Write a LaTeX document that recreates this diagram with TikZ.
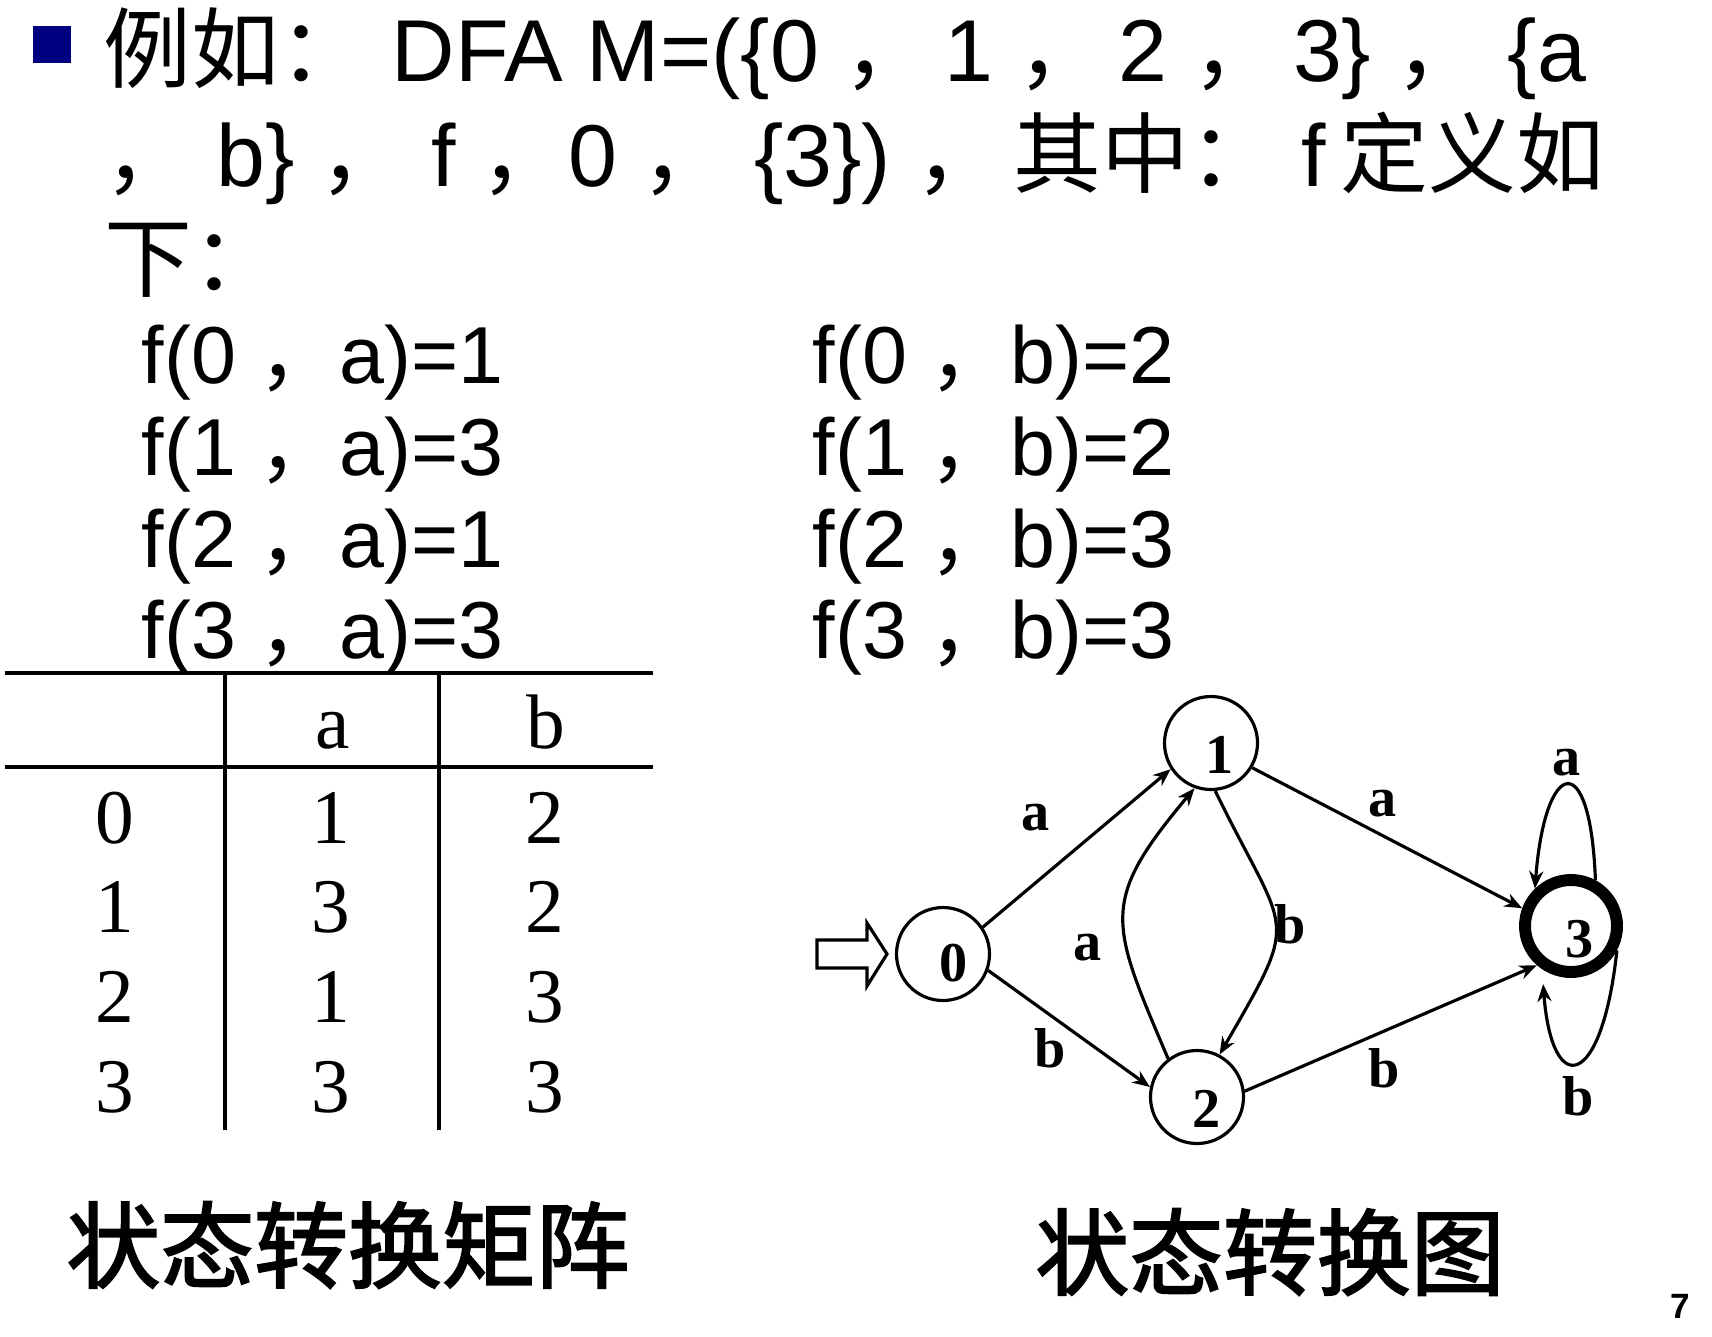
\documentclass[tikz,border=0pt]{standalone}
\usepackage{fontspec}
\usepackage{tikz}
\usetikzlibrary{arrows.meta}

\setmainfont{Liberation Sans}
\newfontfamily\tnr{Liberation Serif}
\newfontfamily\cjk{Noto Sans CJK SC}
\newfontfamily\cjkheavy[FakeBold=2.1]{Noto Sans CJK SC}
\newcommand{\zc}{{\cjk ，}}
\newcommand{\zcs}{\zc\hspace{0.15em}}
\definecolor{bulletblue}{RGB}{0,0,128}

\tikzset{
    headline/.style = {font = {\fontsize{25}{29}\selectfont}, inner sep = 0pt, anchor = base west},
    txtline/.style = {font = {\fontsize{23}{27}\selectfont}, inner sep = 0pt, anchor = base west},
    cell/.style = {font = {\fontsize{22}{26}\selectfont\tnr}, inner sep = 0pt, anchor = base},
    tabline/.style = {line width = 1.1pt},
    statenode/.style = {circle, draw, line width = 0.9pt, minimum size = 0.93cm, inner sep = 0pt},
    accept/.style = {statenode, line width = 3.4pt, minimum size = 0.92cm},
    digit/.style = {font = {\fontsize{16}{18}\selectfont\tnr\bfseries}, inner sep = 0pt},
    trans/.style = {-{Stealth[length = 5pt, width = 4pt]}, line width = 0.9pt},
    caption/.style = {font = {\fontsize{26.7}{30}\selectfont\cjkheavy}, inner sep = 0pt}
}

\begin{document}
\begin{tikzpicture}
        \useasboundingbox (0, 0) rectangle (17.12, -13.36);

        % heading text
        \fill[bulletblue] (0.33, -0.26) rectangle (0.71, -0.63);
        \node[headline] (l1) at (1.03, -0.81) {{\cjk 例如：}\ DFA M=(\{0 \zcs 1 \zcs 2 \zcs 3\} \zc\ \{a};
        \node[headline] (l2) at (1.04, -1.86) {\zc\ b\} \zc\ f \zc 0 \zc\ \{3\}) \zc\hspace{0.12em}{\cjk 其中：} f\,{\cjk 定义如}};
        \node[headline] (l3) at (1.04, -2.90) {{\cjk 下：}};

        \node[txtline] (fa0) at (1.41, -3.83) {f(0 \zc a)=1};
        \node[txtline] (fa1) at (1.41, -4.75) {f(1 \zc a)=3};
        \node[txtline] (fa2) at (1.41, -5.67) {f(2 \zc a)=1};
        \node[txtline] (fa3) at (1.41, -6.58) {f(3 \zc a)=3};
        \node[txtline] (fb0) at (8.12, -3.83) {f(0 \zc b)=2};
        \node[txtline] (fb1) at (8.12, -4.75) {f(1 \zc b)=2};
        \node[txtline] (fb2) at (8.12, -5.67) {f(2 \zc b)=3};
        \node[txtline] (fb3) at (8.12, -6.58) {f(3 \zc b)=3};

        % transition matrix
        \draw[tabline] (0.05, -6.73) -- (6.53, -6.73);
        \draw[tabline] (0.05, -7.67) -- (6.53, -7.67);
        \draw[tabline] (2.25, -6.73) -- (2.25, -11.30);
        \draw[tabline] (4.39, -6.73) -- (4.39, -11.30);

        \node[cell] (ha) at (3.33, -7.48) {a};
        \node[cell] (hb) at (5.46, -7.48) {b};
        \node[cell] (r0) at (1.15, -8.43) {0};
        \node[cell] (r0a) at (3.31, -8.43) {1};
        \node[cell] (r0b) at (5.45, -8.43) {2};
        \node[cell] (r1) at (1.15, -9.32) {1};
        \node[cell] (r1a) at (3.31, -9.32) {3};
        \node[cell] (r1b) at (5.45, -9.32) {2};
        \node[cell] (r2) at (1.15, -10.22) {2};
        \node[cell] (r2a) at (3.31, -10.22) {1};
        \node[cell] (r2b) at (5.45, -10.22) {3};
        \node[cell] (r3) at (1.15, -11.12) {3};
        \node[cell] (r3a) at (3.31, -11.12) {3};
        \node[cell] (r3b) at (5.45, -11.12) {3};

        % transition diagram
        \node[statenode] (q0) at (9.43, -9.54) {};
        \node[statenode] (q1) at (12.11, -7.43) {};
        \node[statenode] (q2) at (11.97, -10.97) {};
        \node[accept] (q3) at (15.71, -9.26) {};

        \node[digit] (d0) at (9.54, -9.63) {0};
        \node[digit] (d1) at (12.20, -7.55) {1};
        \node[digit] (d2) at (12.07, -11.09) {2};
        \node[digit] (d3) at (15.80, -9.39) {3};

        \draw[line width = 0.9pt] (8.17, -9.40) -- (8.67, -9.40) -- (8.67, -9.23) -- (8.87, -9.54)
            -- (8.67, -9.86) -- (8.67, -9.68) -- (8.17, -9.68) -- cycle;

        \draw[trans] (q0.34) -- (q1.213);
        \draw[trans] (q0.-20) -- (q2.168);
        \draw[trans] (q1.-31) -- (q3.160);
        \draw[trans] (q2.7) -- (q3.229);
        \draw[trans] (q1.-85) to[out = -64, in = 60, looseness = 1.6] (q2.62);
        \draw[trans] (q2.127) to[out = 113, in = 230, looseness = 1.4] (q1.250);
        \draw[trans] (q3.62) .. controls +(-0.05, 1.35) and +(0.1, 1.3) .. (q3.134);
        \draw[trans, shorten > = 0.15cm] (q3.-28) .. controls +(-0.15, -1.4) and +(0.1, -1.3) .. (q3.236);

        \node[digit] (ea01) at (10.36, -8.18) {a};
        \node[digit] (eb02) at (10.50, -10.48) {b};
        \node[digit] (ea21) at (10.88, -9.48) {a};
        \node[digit] (eb12) at (12.90, -9.24) {b};
        \node[digit] (ea13) at (13.83, -8.04) {a};
        \node[digit] (eb23) at (13.84, -10.68) {b};
        \node[digit] (ea33) at (15.67, -7.63) {a};
        \node[digit] (eb33) at (15.78, -10.96) {b};

        % captions
        \node[caption] (capm) at (3.48, -12.45) {状态转换矩阵};
        \node[caption] (capg) at (12.70, -12.52) {状态转换图};
        \node[font = {\fontsize{10}{12}\selectfont\bfseries}, inner sep = 0pt] (pg) at (16.80, -13.06) {7};
    \end{tikzpicture}
\end{document}
